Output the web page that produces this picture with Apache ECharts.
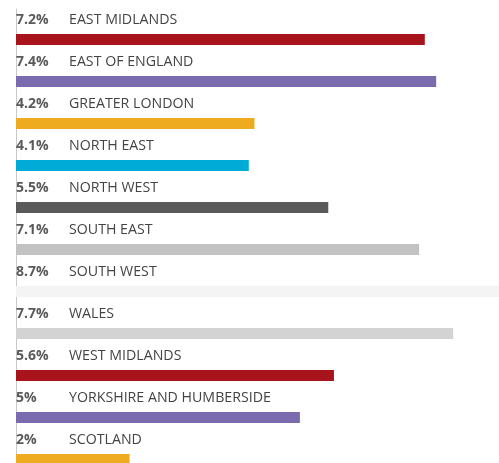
<!DOCTYPE html>
<html>
<head>
<meta charset="utf-8">
<script src="https://cdn.jsdelivr.net/npm/echarts@6/dist/echarts.min.js"></script>
<style>
  html, body { margin: 0; padding: 0; background: #fff; }
  #chart { width: 499px; height: 463px; }
</style>
</head>
<body>
<div id="chart"></div>
<script>
const regions = [
    'EAST MIDLANDS', 'EAST OF ENGLAND', 'GREATER LONDON', 'NORTH EAST', 'NORTH WEST',
    'SOUTH EAST', 'SOUTH WEST', 'WALES', 'WEST MIDLANDS', 'YORKSHIRE AND HUMBERSIDE', 'SCOTLAND',
];
const values = [7.2, 7.4, 4.2, 4.1, 5.5, 7.1, 8.7, 7.7, 5.6, 5, 2];
const barColors = [
    '#a8141c', '#7a6aae', '#eeab1f', '#00abd8', '#5a5a5a',
    '#c2c2c2', '#f4f4f4', '#d3d3d3', '#a8141c', '#7a6aae', '#eeab1f',
];

window.addEventListener('load', () => {
    const chart = echarts.init(document.getElementById('chart'));

    chart.setOption({
        animation: false,
        grid: { left: 16, top: 9, width: 511, height: 462, outerBoundsMode: 'none' },
        xAxis: {
            type: 'value',
            min: 0,
            max: 9,
            show: false,
        },
        yAxis: {
            type: 'category',
            inverse: true,
            data: regions,
            axisLine: { show: true, lineStyle: { color: '#c8c8c8', width: 1 } },
            axisTick: { show: false },
            axisLabel: { show: false },
        },
        series: [
            {
                // spacer so the visible bar sits in the lower part of each row
                type: 'bar',
                data: regions.map(() => 0),
                barWidth: 19,
                barGap: '0%',
                itemStyle: { color: 'transparent' },
                silent: true,
            },
            {
                type: 'bar',
                data: values.map((v, i) => ({ value: v, itemStyle: { color: barColors[i] } })),
                barWidth: 11,
                label: {
                    show: true,
                    position: [0, -14],
                    align: 'left',
                    verticalAlign: 'middle',
                    formatter: (p) => `{p|${p.value}%}{n|${regions[p.dataIndex]}}`,
                    rich: {
                        p: {
                            width: 53,
                            fontFamily: 'Open Sans',
                            fontWeight: 'bold',
                            fontSize: 14,
                            color: '#5a5a5a',
                        },
                        n: {
                            fontFamily: 'Open Sans',
                            fontSize: 14.2,
                            color: '#444',
                        },
                    },
                },
            },
        ],
    });
});
</script>
</body>
</html>
